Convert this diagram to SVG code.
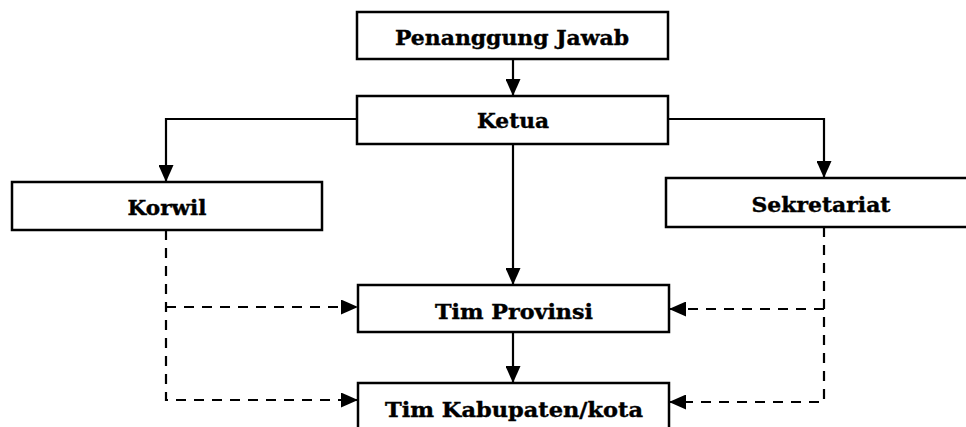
<svg xmlns="http://www.w3.org/2000/svg" width="966" height="427" viewBox="0 0 966 427">
<style>
.box{fill:#fff;stroke:#000;stroke-width:2.5}
.lbl{font-family:"DejaVu Serif","Liberation Serif",serif;font-weight:bold;font-size:21px;fill:#000;text-anchor:middle;stroke:#000;stroke-width:0.4}
.solid{fill:none;stroke:#000;stroke-width:2.2}
.dash{fill:none;stroke:#000;stroke-width:2.2;stroke-dasharray:10 8}
</style>
<defs>
<marker id="ah" markerUnits="userSpaceOnUse" markerWidth="17" markerHeight="15" refX="17" refY="7.5" orient="auto">
<path d="M0,0 L17,7.5 L0,15 z" fill="#000"/>
</marker>
</defs>
<rect width="966" height="427" fill="#fff"/>
<g id="connectors">
<path class="solid" d="M513,59 V96" marker-end="url(#ah)"/>
<path class="solid" d="M357,119 H166 V182" marker-end="url(#ah)"/>
<path class="solid" d="M668,119 H824 V178" marker-end="url(#ah)"/>
<path class="solid" d="M513,144 V285" marker-end="url(#ah)"/>
<path class="solid" d="M513,332 V383" marker-end="url(#ah)"/>
<path class="dash" d="M166,230 V400 H358" marker-end="url(#ah)"/>
<path class="dash" d="M166,307 H358" marker-end="url(#ah)"/>
<path class="dash" d="M824,227 V402 H669" marker-end="url(#ah)"/>
<path class="dash" d="M824,309 H669" marker-end="url(#ah)"/>
</g>
<g id="penanggung-jawab">
<rect class="box" x="357" y="12" width="311" height="47"/>
<text class="lbl" x="512" y="45" textLength="234" lengthAdjust="spacingAndGlyphs">Penanggung Jawab</text>
</g>
<g id="ketua">
<rect class="box" x="357" y="96" width="311" height="48"/>
<text class="lbl" x="513" y="128" textLength="72" lengthAdjust="spacingAndGlyphs">Ketua</text>
</g>
<g id="korwil">
<rect class="box" x="12" y="182" width="310" height="48"/>
<text class="lbl" x="167" y="215" textLength="79" lengthAdjust="spacingAndGlyphs">Korwil</text>
</g>
<g id="sekretariat">
<rect class="box" x="666" y="178" width="305" height="49"/>
<text class="lbl" x="821" y="212" textLength="139" lengthAdjust="spacingAndGlyphs">Sekretariat</text>
</g>
<g id="tim-provinsi">
<rect class="box" x="358" y="285" width="311" height="47"/>
<text class="lbl" x="514" y="319" textLength="158" lengthAdjust="spacingAndGlyphs">Tim Provinsi</text>
</g>
<g id="tim-kabupaten">
<rect class="box" x="358" y="383" width="311" height="50"/>
<text class="lbl" x="514" y="417" textLength="258" lengthAdjust="spacingAndGlyphs">Tim Kabupaten/kota</text>
</g>
</svg>
